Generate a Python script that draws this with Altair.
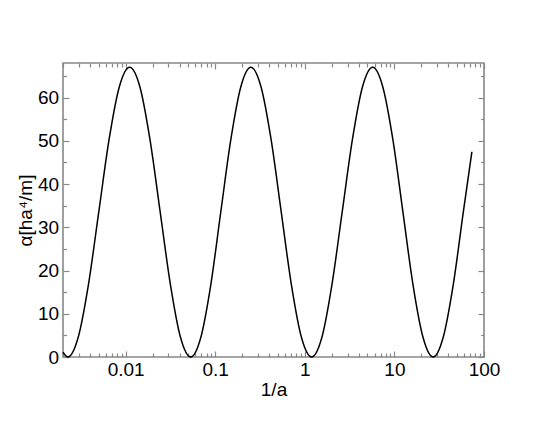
import altair as alt
import pandas as pd

# 1/a values (log axis) and alpha values
inv_a = [0.00200, 0.002265, 0.002951, 0.003846, 0.005012, 0.006531, 0.008511,
         0.01109, 0.01442, 0.01871, 0.02432, 0.03162, 0.04102, 0.05333,
         0.06902, 0.08933, 0.1153, 0.1493, 0.1932, 0.2500,
         0.3243, 0.4207, 0.5458, 0.7079, 0.9183, 1.191,
         1.549, 2.009, 2.612, 3.396, 4.406, 5.728,
         7.413, 9.616, 12.45, 16.11, 20.89, 27.04,
         34.99, 45.39, 58.75, 73.28]
alpha = [1.1, 0.0, 4.5, 16.75, 33.5, 50.25, 62.5,
         67.0, 62.5, 50.25, 33.5, 16.75, 4.5, 0.0,
         4.5, 16.75, 33.5, 50.25, 62.5, 67.0,
         62.5, 50.25, 33.5, 16.75, 4.5, 0.0,
         4.5, 16.75, 33.5, 50.25, 62.5, 67.0,
         62.5, 50.25, 33.5, 16.75, 4.5, 0.0,
         4.5, 16.75, 33.5, 47.5]

x_major = [0.01, 0.1, 1, 10, 100]
x_minor = [m * d for d in [0.001, 0.01, 0.1, 1, 10] for m in range(2, 10)]
x_minor = [v for v in x_minor if 0.002 <= v <= 100]
y_major = [0, 10, 20, 30, 40, 50, 60]
y_minor = [5, 15, 25, 35, 45, 55, 65]

df = pd.DataFrame({"x": inv_a, "alpha": alpha})

FONT = "Liberation Sans"
GRAY = "#888888"
xs = alt.Scale(type="log", domain=[0.002, 100], nice=False)
ys = alt.Scale(domain=[0, 68], nice=False, zero=False)


def layer(xaxis, yaxis, visible):
    return alt.Chart(df).mark_line(
        color="black", strokeWidth=1.5, interpolate="monotone",
        opacity=1 if visible else 0,
    ).encode(
        x=alt.X("x:Q", scale=xs, axis=xaxis),
        y=alt.Y("alpha:Q", scale=ys, axis=yaxis),
    )


common = dict(domain=False, grid=False, tickColor=GRAY, tickWidth=1.2,
              labelFont=FONT, labelFontSize=19, labelColor="black",
              titleFont=FONT, titleFontSize=19, titleFontWeight="normal",
              titleColor="black")

# labels and titles (no ticks)
l1 = layer(
    alt.Axis(orient="bottom", values=x_major, format="~g", title="1/a",
             ticks=False, labelPadding=3, titlePadding=1,
             labelFlush=False, labelOverlap=False, **common),
    alt.Axis(orient="left", values=y_major, format="d", title="α[ha⁴/m]",
             ticks=False, labelPadding=4.4, titlePadding=2,
             labelOverlap=False, **common),
    True,
)
# major ticks, bottom / left
l5 = layer(
    alt.Axis(orient="bottom", values=x_major, labels=False, title=None,
             tickSize={"expr": "-6"}, **common),
    alt.Axis(orient="left", values=y_major, labels=False, title=None,
             tickSize={"expr": "-6"}, **common),
    False,
)
# minor ticks, bottom / left
l2 = layer(
    alt.Axis(orient="bottom", values=x_minor, labels=False, title=None,
             tickSize={"expr": "-4"}, **common),
    alt.Axis(orient="left", values=y_minor, labels=False, title=None,
             tickSize={"expr": "-3.5"}, **common),
    False,
)
# major ticks, top / right
l3 = layer(
    alt.Axis(orient="top", values=x_major, labels=False, title=None,
             tickSize={"expr": "-6"}, **common),
    alt.Axis(orient="right", values=y_major, labels=False, title=None,
             tickSize={"expr": "-6"}, **common),
    False,
)
# minor ticks, top / right
l4 = layer(
    alt.Axis(orient="top", values=x_minor, labels=False, title=None,
             tickSize={"expr": "-4"}, **common),
    alt.Axis(orient="right", values=y_minor, labels=False, title=None,
             tickSize={"expr": "-3.5"}, **common),
    False,
)

chart = alt.layer(l1, l5, l2, l3, l4).resolve_axis(
    x="independent", y="independent"
).properties(
    width=421, height=294,
    autosize=alt.AutoSizeParams(type="none"),
    padding={"left": 55, "top": 55, "right": 45, "bottom": 50},
).configure_view(
    stroke=GRAY, strokeWidth=1.6
)

chart.save("out.html", embed_options={"renderer": "svg", "actions": False})
